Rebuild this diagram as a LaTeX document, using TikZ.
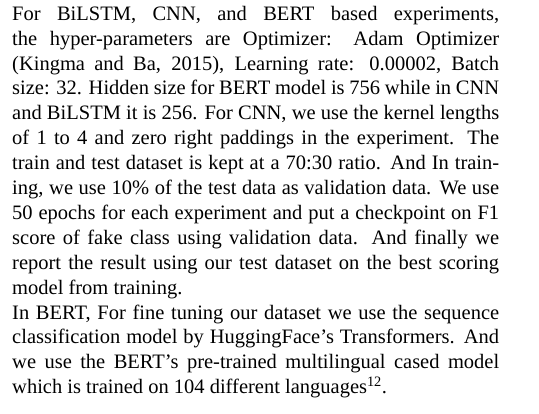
\documentclass[tikz,border=0pt]{standalone}
\usepackage{fontspec}
\setmainfont{Liberation Serif}
\tikzset{paratext/.style={anchor=north west, inner sep=0pt, text width=487bp, align=justify, font=\fontsize{20.5bp}{24.9bp}\selectfont}}
\begin{document}
\begin{tikzpicture}[x=1bp,y=1bp]
\useasboundingbox[fill=white] (0,0) rectangle (539,-413);
\node[paratext] (para) at (12,-2.57) {\setlength{\parindent}{0pt}\strut For BiLSTM, CNN, and BERT based experiments,\linebreak
the hyper-parameters are Optimizer: Adam Optimizer\linebreak
(Kingma and Ba, 2015), Learning rate: 0.00002, Batch\linebreak
size: 32. Hidden size for BERT model is 756 while in CNN\linebreak
and BiLSTM it is 256. For CNN, we use the kernel lengths\linebreak
of 1 to 4 and zero right paddings in the experiment. The\linebreak
train and test dataset is kept at a 70:30 ratio. And In train-\linebreak
ing, we use 10\% of the test data as validation data. We use\linebreak
50 epochs for each experiment and put a checkpoint on F1\linebreak
score of fake class using validation data. And finally we\linebreak
report the result using our test dataset on the best scoring\linebreak
model from training.\par
In BERT, For fine tuning our dataset we use the sequence\linebreak
classification model by HuggingFace's Transformers. And\linebreak
we use the BERT's pre-trained multilingual cased model\linebreak
which is trained on 104 different languages\textsuperscript{12}.};
\end{tikzpicture}
\end{document}
